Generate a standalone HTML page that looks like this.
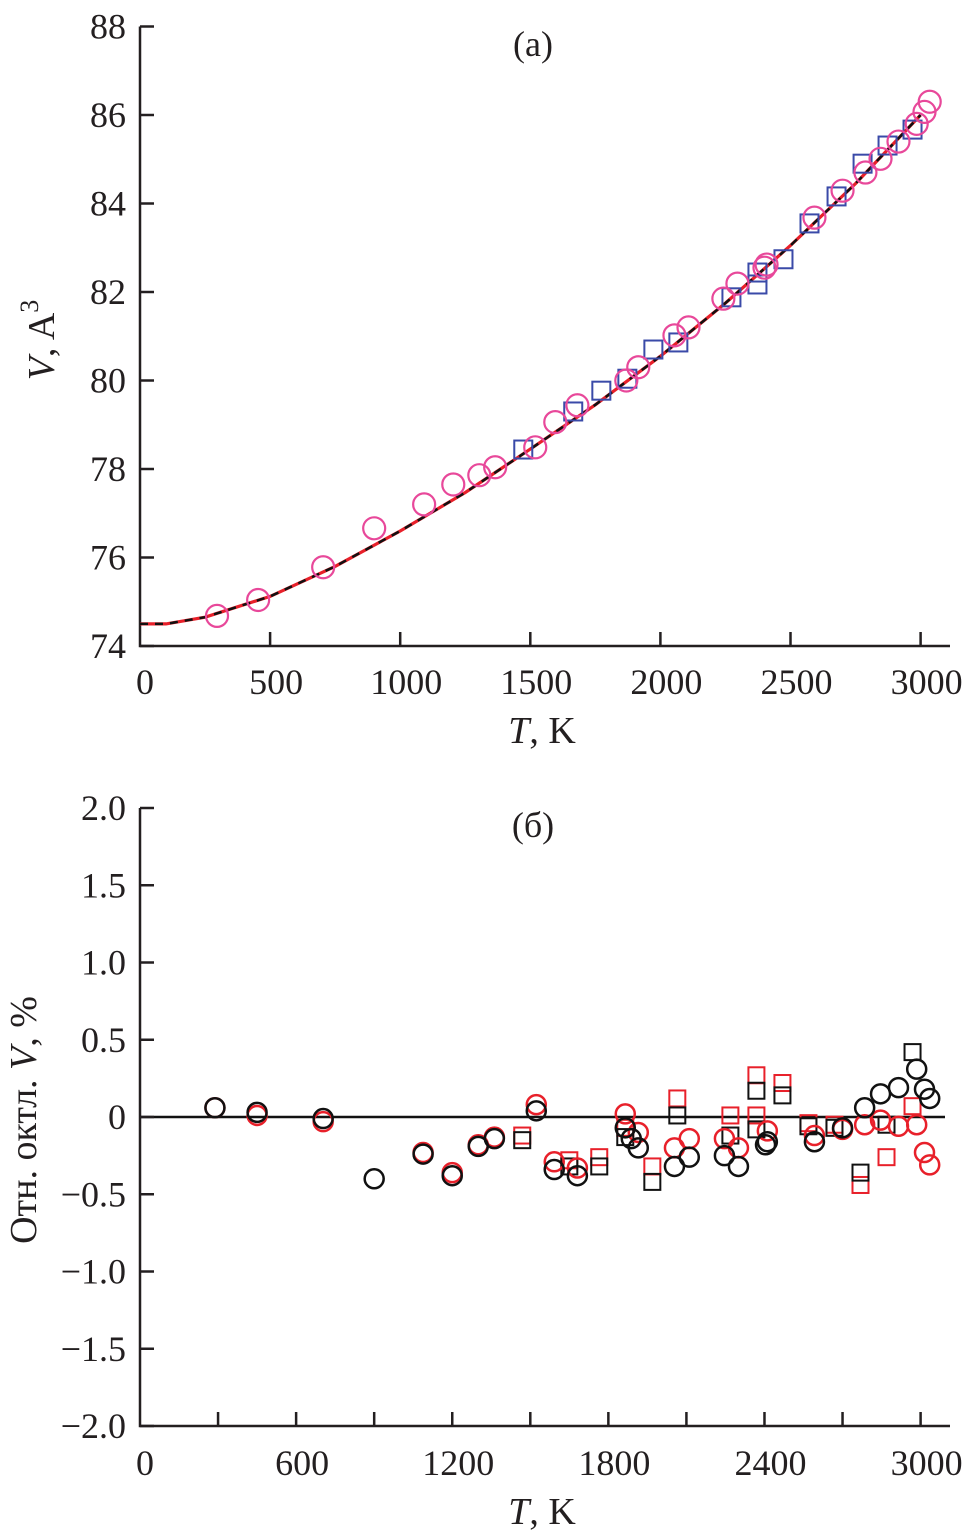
<!DOCTYPE html>
<html><head><meta charset="utf-8"><style>
body{margin:0;background:#fff}
svg{display:block;font-family:"Liberation Serif",serif}
</style></head><body>
<svg id="c" width="970" height="1538" viewBox="0 0 970 1538"></svg>
<script>
// Panel (a) data
const aCircT=[296,454,704,900,1092,1204,1304,1365,1519,1596,1681,1869,1915,2054,2108,2242,2296,2400,2408,2592,2700,2788,2846,2915,2985,3015,3035];
const aCircV=[74.68,75.04,75.78,76.66,77.2,77.65,77.86,78.04,78.49,79.06,79.44,80.0,80.3,81.02,81.2,81.85,82.19,82.55,82.62,83.68,84.29,84.7,85.01,85.4,85.8,86.07,86.3];
const aSqT=[1473,1665,1773,1873,1973,2069,2273,2373,2373,2473,2573,2677,2777,2873,2969];
const aSqV=[78.44,79.3,79.77,80.04,80.7,80.86,81.88,82.17,82.44,82.74,83.55,84.16,84.9,85.31,85.67];
const curveT=[0,100,250,500,750,1000,1250,1500,1750,2000,2250,2500,2750,3000];
const curveV=[74.5,74.5,74.65,75.12,75.8,76.6,77.47,78.45,79.45,80.55,81.75,83.05,84.45,86.0];
const aXTicks=[0,500,1000,1500,2000,2500,3000];
const aYTicks=[74,76,78,80,82,84,86,88];
// Panel (b) data
const bBlkCircT=[288,450,704,900,1088,1200,1300,1362,1523,1592,1681,1865,1888,1915,2054,2111,2246,2300,2404,2411,2592,2700,2785,2846,2915,2985,3015,3035];
const bBlkCircV=[0.06,0.03,-0.01,-0.4,-0.24,-0.38,-0.19,-0.14,0.04,-0.34,-0.38,-0.07,-0.14,-0.2,-0.32,-0.26,-0.25,-0.32,-0.18,-0.16,-0.16,-0.07,0.06,0.15,0.19,0.31,0.18,0.12];
const bRedCircT=[288,450,704,1088,1200,1300,1362,1523,1592,1681,1865,1915,2054,2111,2246,2300,2411,2592,2700,2785,2846,2915,2985,3015,3035];
const bRedCircV=[0.06,0.01,-0.03,-0.23,-0.36,-0.18,-0.13,0.08,-0.29,-0.33,0.02,-0.1,-0.2,-0.14,-0.14,-0.2,-0.09,-0.12,-0.08,-0.05,-0.02,-0.06,-0.05,-0.23,-0.31];
const bBlkSqT=[1469,1650,1765,1865,1969,2065,2269,2369,2369,2469,2569,2669,2769,2869,2969];
const bBlkSqV=[-0.15,-0.32,-0.32,-0.13,-0.42,0.01,-0.12,0.17,-0.08,0.14,-0.06,-0.07,-0.36,-0.05,0.42];
const bRedSqT=[1469,1650,1765,1865,1969,2065,2269,2369,2369,2469,2569,2669,2769,2869,2969];
const bRedSqV=[-0.12,-0.28,-0.26,-0.07,-0.32,0.12,0.01,0.27,0.01,0.22,-0.04,-0.05,-0.44,-0.26,0.07];
const bXTicks=[0,600,1200,1800,2400,3000];
const bYTicks=[-2.0,-1.5,-1.0,-0.5,0,0.5,1.0,1.5,2.0];
const bYLabels=["\u22122.0","\u22121.5","\u22121.0","\u22120.5","0","0.5","1.0","1.5","2.0"];

const NS="http://www.w3.org/2000/svg";
const svg=document.getElementById('c');
function mk(tag,attrs,parent){const e=document.createElementNS(NS,tag);for(const k in attrs)e.setAttribute(k,attrs[k]);(parent||svg).appendChild(e);return e;}
const xs=t=>140+t*0.2602;
const ya=v=>646-(v-74)*44.25;
const yb=v=>1117-v*154.5;

// ---- Panel a axes
let g=mk('g',{});


let l=mk('path',{d:`M140,${ya(88)} V646 H950`,stroke:'#231f20','stroke-width':2.5,fill:'none'},g);


aYTicks.forEach(v=>{
 mk('line',{x1:140,x2:154,y1:ya(v),y2:ya(v),stroke:'#231f20','stroke-width':2.5},g);
 const t=mk('text',{x:126,y:ya(v)+12,'text-anchor':'end','font-size':36,fill:'#231f20'},g);t.textContent=v;
 
 
});
aXTicks.forEach(v=>{
 if(v>0)mk('line',{x1:xs(v),x2:xs(v),y1:646,y2:632,stroke:'#231f20','stroke-width':2.5},g);
 const t=mk('text',{x:v==0?145:xs(v)+6,y:694,'text-anchor':'middle','font-size':36,fill:'#231f20'},g);t.textContent=v;
 
 
});
let tt=mk('text',{x:542,y:743,'text-anchor':'middle','font-size':38,fill:'#231f20'},g);
tt.innerHTML='<tspan font-style="italic">T</tspan>, K';


tt=mk('text',{transform:'translate(54,340) rotate(-90)','text-anchor':'middle','font-size':38,fill:'#231f20'},g);
tt.innerHTML='<tspan font-style="italic">V</tspan>, A<tspan dy="-16" font-size="26">3</tspan>';


tt=mk('text',{x:533,y:56,'text-anchor':'middle','font-size':36,fill:'#231f20'},g);tt.textContent='(a)';


// curves
let d=curveT.map((t,i)=>(i?'L':'M')+xs(t).toFixed(1)+','+ya(curveV[i]).toFixed(1)).join(' ');
l=mk('path',{d,stroke:'#e8202a','stroke-width':3.2,fill:'none'},g);


l=mk('path',{d,stroke:'#111','stroke-width':2.5,fill:'none','stroke-dasharray':'8 7'},g);


aSqT.forEach((t,i)=>{const r=mk('rect',{x:xs(t)-9,y:ya(aSqV[i])-9,width:18,height:18,fill:'none',stroke:'#3a4aa8','stroke-width':2},g);
 
 });
aCircT.forEach((t,i)=>{const c=mk('circle',{cx:xs(t),cy:ya(aCircV[i]),r:11,fill:'none',stroke:'#e8489a','stroke-width':2.2},g);
 
 });

// ---- Panel b
g=mk('g',{});


l=mk('path',{d:`M140,${yb(2)} V${yb(-2)} H950`,stroke:'#231f20','stroke-width':2.5,fill:'none'},g);


l=mk('line',{x1:140,x2:945,y1:yb(0),y2:yb(0),stroke:'#111','stroke-width':2.5},g);


bYTicks.forEach((v,i)=>{
 mk('line',{x1:140,x2:154,y1:yb(v),y2:yb(v),stroke:'#231f20','stroke-width':2.5},g);
 const t=mk('text',{x:126,y:yb(v)+12,'text-anchor':'end','font-size':36,fill:'#231f20'},g);t.textContent=bYLabels[i];
 
 
});
for(let v=300;v<=3000;v+=300)mk('line',{x1:xs(v),x2:xs(v),y1:yb(-2),y2:yb(-2)-14,stroke:'#231f20','stroke-width':2.5},g);
bXTicks.forEach(v=>{
 const t=mk('text',{x:v==0?145:xs(v)+6,y:1475,'text-anchor':'middle','font-size':36,fill:'#231f20'},g);t.textContent=v;
 
 
});
tt=mk('text',{x:542,y:1524,'text-anchor':'middle','font-size':38,fill:'#231f20'},g);
tt.innerHTML='<tspan font-style="italic">T</tspan>, K';


tt=mk('text',{transform:'translate(36,1120) rotate(-90)','text-anchor':'middle','font-size':38,fill:'#231f20'},g);
tt.innerHTML='Отн. октл. <tspan font-style="italic">V</tspan>, %';


tt=mk('text',{x:533,y:837,'text-anchor':'middle','font-size':36,fill:'#231f20'},g);tt.textContent='(б)';


bRedSqT.forEach((t,i)=>{const r=mk('rect',{x:xs(t)-8,y:yb(bRedSqV[i])-8,width:16,height:16,fill:'none',stroke:'#e8202a','stroke-width':2},g);
 
 });
bBlkSqT.forEach((t,i)=>{const r=mk('rect',{x:xs(t)-8,y:yb(bBlkSqV[i])-8,width:16,height:16,fill:'none',stroke:'#111','stroke-width':2},g);
 
 });
bRedCircT.forEach((t,i)=>{const c=mk('circle',{cx:xs(t),cy:yb(bRedCircV[i]),r:9.5,fill:'none',stroke:'#e8202a','stroke-width':2.5},g);
 
 });
bBlkCircT.forEach((t,i)=>{const c=mk('circle',{cx:xs(t),cy:yb(bBlkCircV[i]),r:9.5,fill:'none',stroke:'#111','stroke-width':2.5},g);
 
 });
</script>
</body></html>
